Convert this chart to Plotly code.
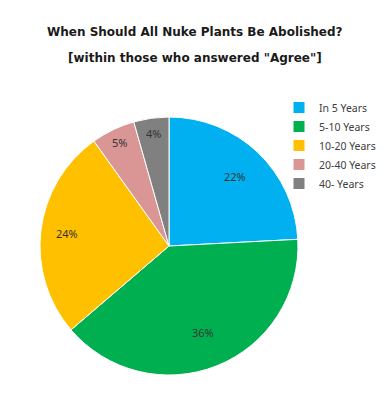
import math
import plotly.graph_objects as go

categories = ["In 5 Years", "5-10 Years", "10-20 Years", "20-40 Years", "40- Years"]
values = [22, 36, 24, 5, 4]
colors = ["#00B0F0", "#00B050", "#FFC000", "#DA9694", "#808080"]
labels_text = [f"{v}%" for v in values]

# style: figure geometry (the page adds an 8px body margin, so figure coords = page - 8)
W, H = 388, 400
CX, CY, R = 161, 238, 129  # pie centre / radius in figure pixels
LABEL_RADIUS = [0.74, 0.72, 0.80, 0.89, 0.88]  # fraction of radius for each data label

fig = go.Figure(go.Pie(
    labels=categories,
    values=values,
    text=labels_text,
    textinfo="none",
    sort=False,
    direction="clockwise",
    rotation=0,
    marker=dict(colors=colors, line=dict(color="white", width=1)),
    domain=dict(x=[(CX - R) / W, (CX + R) / W], y=[(H - CY - R) / H, (H - CY + R) / H]),
    hoverinfo="label+text",
))

# data labels placed at each slice's mid-angle
total = sum(values)
cum = 0
for v, t, frac in zip(values, labels_text, LABEL_RADIUS):
    mid = (cum + v / 2) / total * 2 * math.pi
    cum += v
    px = CX + frac * R * math.sin(mid)
    py = CY - frac * R * math.cos(mid)
    fig.add_annotation(text=t, x=px / W, y=1 - py / H, xref="paper", yref="paper",
                       xanchor="center", yanchor="middle", showarrow=False,
                       font=dict(family="Noto Sans", size=11, color="#333333"))

fig.add_annotation(text="<b>When Should All Nuke Plants Be Abolished?</b>",
                   x=187 / W, y=1 - 24 / H, xref="paper", yref="paper",
                   xanchor="center", yanchor="middle",
                   showarrow=False, font=dict(family="DejaVu Sans", size=12, color="#1a1a1a"))
fig.add_annotation(text="<b>[within those who answered \"Agree\"]</b>",
                   x=187 / W, y=1 - 50 / H, xref="paper", yref="paper",
                   xanchor="center", yanchor="middle",
                   showarrow=False, font=dict(family="DejaVu Sans", size=12, color="#1a1a1a"))

fig.update_layout(
    width=W, height=H,
    margin=dict(l=0, r=0, t=0, b=0),
    paper_bgcolor="white",
    plot_bgcolor="white",
    showlegend=True,
    legend=dict(x=271 / W, y=1 - 85 / H, xanchor="left", yanchor="top",
                bgcolor="rgba(0,0,0,0)",
                font=dict(family="Noto Sans", size=10.5, color="#404040"),
                itemwidth=30),
)

fig.write_html("out.html")
